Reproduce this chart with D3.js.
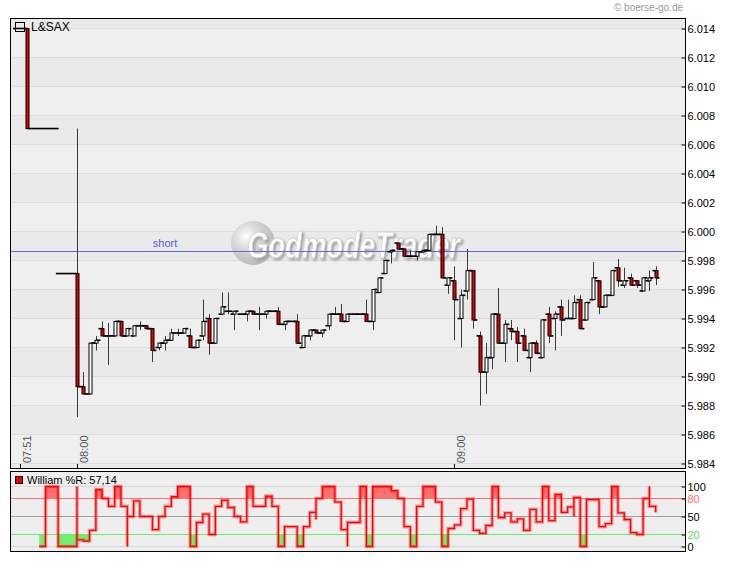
<!DOCTYPE html>
<html><head><meta charset="utf-8">
<script src="https://cdn.jsdelivr.net/npm/d3@7"></script>
<style>
html,body{margin:0;padding:0;background:#fff;}
svg{display:block;font-family:"Liberation Sans",Arial,sans-serif;}
</style></head>
<body>
<svg id="chart" width="730" height="561"></svg>
<script>
// ---------------- DATA ----------------
const instrument = "L&SAX";
// minutes relative to 08:00
const candleTime = [-8,0,1,2,3,4,5,6,7,8,9,10,11,12,13,14,15,16,17,18,19,20,21,22,23,24,25,26,27,28,29,30,31,32,33,34,35,36,37,38,39,40,41,42,43,44,45,46,47,48,49,50,51,52,53,54,55,56,57,58,59,60,61,62,63,64,65,66,67,68,69,70,71,72,73,74,75,76,77,78,79,80,81,82,83,84,85,86,87,88,89,90,91,92];
const openVals  = [6.0140,5.9971,5.9893,5.9888,5.9923,5.9933,5.9928,5.9928,5.9938,5.9928,5.9928,5.9935,5.9935,5.9933,5.9920,5.9923,5.9925,5.9930,5.9930,5.9928,5.9920,5.9928,5.9940,5.9923,5.9943,5.9945,5.9943,5.9943,5.9943,5.9945,5.9943,5.9943,5.9945,5.9945,5.9936,5.9938,5.9938,5.9920,5.9928,5.9932,5.9930,5.9935,5.9943,5.9943,5.9938,5.9943,5.9943,5.9943,5.9938,5.9958,5.9971,5.9986,5.9992,5.9988,5.9983,5.9983,5.9986,5.9987,5.9998,5.9998,5.9963,5.9966,5.9940,5.9959,5.9973,5.9928,5.9903,5.9913,5.9943,5.9923,5.9933,5.9931,5.9928,5.9913,5.9923,5.9913,5.9943,5.9940,5.9948,5.9940,5.9940,5.9953,5.9939,5.9953,5.9966,5.9948,5.9956,5.9975,5.9963,5.9968,5.9966,5.9959,5.9966,5.9973];
const highVals  = [6.0140,6.0071,5.9903,5.9923,5.9928,5.9938,5.9937,5.9938,5.9938,5.9933,5.9935,5.9938,5.9935,5.9933,5.9923,5.9928,5.9933,5.9933,5.9933,5.9933,5.9925,5.9953,5.9943,5.9940,5.9958,5.9958,5.9945,5.9943,5.9945,5.9945,5.9948,5.9945,5.9945,5.9948,5.9938,5.9938,5.9943,5.9928,5.9932,5.9932,5.9932,5.9943,5.9948,5.9950,5.9943,5.9943,5.9943,5.9953,5.9960,5.9968,5.9980,5.9987,5.9992,5.9988,5.9987,5.9986,5.9987,5.9998,6.0004,6.0003,5.9968,5.9976,5.9960,5.9988,5.9973,5.9931,5.9923,5.9943,5.9961,5.9939,5.9939,5.9934,5.9933,5.9923,5.9925,5.9939,5.9948,5.9945,5.9953,5.9953,5.9956,5.9956,5.9951,5.9979,5.9966,5.9956,5.9973,5.9981,5.9975,5.9971,5.9966,5.9968,5.9973,5.9976];
const lowVals   = [6.0071,5.9872,5.9888,5.9888,5.9918,5.9928,5.9908,5.9928,5.9928,5.9928,5.9928,5.9932,5.9933,5.9910,5.9918,5.9918,5.9925,5.9928,5.9930,5.9920,5.9920,5.9925,5.9915,5.9923,5.9943,5.9943,5.9932,5.9943,5.9938,5.9943,5.9932,5.9940,5.9945,5.9936,5.9932,5.9938,5.9923,5.9920,5.9925,5.9930,5.9927,5.9932,5.9943,5.9938,5.9938,5.9943,5.9943,5.9938,5.9932,5.9958,5.9971,5.9978,5.9988,5.9983,5.9983,5.9980,5.9986,5.9987,5.9998,5.9968,5.9957,5.9925,5.9920,5.9953,5.9933,5.9880,5.9888,5.9905,5.9923,5.9910,5.9925,5.9910,5.9918,5.9903,5.9916,5.9913,5.9923,5.9918,5.9928,5.9940,5.9940,5.9933,5.9939,5.9953,5.9943,5.9948,5.9956,5.9962,5.9961,5.9963,5.9961,5.9959,5.9959,5.9963];
const closeVals = [6.0071,5.9893,5.9888,5.9923,5.9925,5.9928,5.9928,5.9938,5.9928,5.9933,5.9935,5.9935,5.9933,5.9918,5.9923,5.9925,5.9930,5.9930,5.9933,5.9920,5.9925,5.9938,5.9923,5.9940,5.9948,5.9945,5.9945,5.9943,5.9945,5.9943,5.9943,5.9945,5.9945,5.9936,5.9938,5.9938,5.9923,5.9928,5.9932,5.9930,5.9932,5.9943,5.9943,5.9938,5.9943,5.9943,5.9943,5.9938,5.9960,5.9968,5.9980,5.9987,5.9988,5.9983,5.9983,5.9986,5.9987,5.9998,5.9998,5.9968,5.9968,5.9953,5.9956,5.9973,5.9939,5.9903,5.9913,5.9943,5.9923,5.9936,5.9931,5.9923,5.9918,5.9923,5.9916,5.9939,5.9928,5.9943,5.9939,5.9940,5.9951,5.9933,5.9951,5.9968,5.9948,5.9956,5.9973,5.9966,5.9966,5.9963,5.9963,5.9968,5.9968,5.9968];

const shortLevel = 5.99862;
const shortLabel = "short";

const priceTicks = [5.984,5.986,5.988,5.990,5.992,5.994,5.996,5.998,6.000,6.002,6.004,6.006,6.008,6.010,6.012,6.014];
const timeTicks = [-9, 0, 60];
const timeTickLabels = ["07:51","08:00","09:00"];

const wrName = "William %R";
const wrTime  = [-6,-5,-3,0,0,1,2,3,4,5,6,7,8,8,9,10,11,12,13,14,15,16,17,18,19,20,21,22,23,24,25,26,27,28,29,30,31,32,33,34,35,36,37,38,38,39,40,41,42,42,43,43,44,45,46,47,48,49,50,51,52,53,54,55,56,57,58,59,60,61,62,63,64,65,66,67,68,69,70,71,72,73,74,75,76,77,78,79,79,80,81,82,83,84,85,86,87,88,89,90,91,91,92];
const wrValue = [0,100,0,100,11,9,27,95,80,67,100,67,0,50,76,50,50,28,50,67,83,100,100,0,40,54,20,67,77,65,50,41,100,67,67,84,67,0,33,33,0,33,57,45,80,100,100,74,43,28,0,40,40,100,0,100,100,100,93,80,33,0,67,100,100,74,0,30,36,63,79,27,22,35,100,48,56,41,46,27,62,41,100,43,87,57,66,50,82,0,78,78,33,38,100,56,45,23,20,80,100,67,57.14];
const wrTicks = [0,20,50,80,100];
const wrUpper = 80, wrLower = 20;
const copyright = "\u00a9 boerse-go.de";
const watermark = "GodmodeTrader";

// ---------------- LAYOUT ----------------
const svg = d3.select("#chart");
const L = 10, R = 685, T = 18, B = 468;      // main panel
const T2 = 471, B2 = 551;                     // indicator panel

const x = d3.scaleLinear().domain([-10.65, 96.66]).range([L, R]);
const y = d3.scaleLinear().domain([5.984, 6.014]).range([463.5, 28.5]);
const yw = d3.scaleLinear().domain([0, 100]).range([546.5, 486.5]);
const snap = v => Math.round(v - 0.5) + 0.5;

const defs = svg.append("defs");
defs.append("clipPath").attr("id","mainClip").append("rect")
  .attr("x",L).attr("y",T).attr("width",R-L).attr("height",B-T);
defs.append("clipPath").attr("id","aboveClip").append("rect")
  .attr("x",L).attr("y",T2).attr("width",R-L).attr("height",yw(wrUpper)-T2);
defs.append("clipPath").attr("id","belowClip").append("rect")
  .attr("x",L).attr("y",yw(wrLower)).attr("width",R-L).attr("height",B2-yw(wrLower));
const grad = defs.append("radialGradient").attr("id","sphere").attr("cx","35%").attr("cy","35%").attr("r","70%");
grad.append("stop").attr("offset","0%").attr("stop-color","#ffffff");
grad.append("stop").attr("offset","45%").attr("stop-color","#d6d6d6");
grad.append("stop").attr("offset","100%").attr("stop-color","#b4b4b4");
const shadow = defs.append("filter").attr("id","wmShadow").attr("x","-10%").attr("y","-20%").attr("width","130%").attr("height","150%");
shadow.append("feDropShadow").attr("dx",2).attr("dy",2).attr("stdDeviation",1.2)
  .attr("flood-color","#9a9a9a").attr("flood-opacity",0.9);

// copyright
svg.append("text").attr("x",683).attr("y",11).attr("text-anchor","end")
  .attr("font-size",10).attr("fill","#9a9a9a").text(copyright);

// ---------- main panel background bands ----------
const bounds = [T].concat(priceTicks.slice().sort((a,b)=>b-a).map(v=>y(v))).concat([B]);
const main = svg.append("g");
for (let i=0;i<bounds.length-1;i++){
  main.append("rect").attr("x",L).attr("y",bounds[i]).attr("width",R-L)
    .attr("height",bounds[i+1]-bounds[i]).attr("fill", i%2===0 ? "#eaeaea" : "#efefef");
}
main.selectAll("line.grid").data(priceTicks).join("line").attr("class","grid")
  .attr("x1",L).attr("x2",R).attr("y1",d=>y(d)).attr("y2",d=>y(d))
  .attr("stroke","#dcdcdc").attr("stroke-width",1);

// watermark
const wm = main.append("g").attr("opacity",0.95);
wm.append("circle").attr("cx",253).attr("cy",243).attr("r",22).attr("fill","url(#sphere)");
wm.append("text").attr("x",247).attr("y",258).attr("font-size",36).attr("font-weight","bold")
  .attr("font-style","italic").attr("textLength",213).attr("lengthAdjust","spacingAndGlyphs")
  .attr("fill","#ffffff").attr("stroke","#d0d0d0").attr("stroke-width",0.8)
  .attr("filter","url(#wmShadow)").text(watermark);

// short line
main.append("line").attr("x1",L).attr("x2",R).attr("y1",snap(y(shortLevel))).attr("y2",snap(y(shortLevel)))
  .attr("stroke","#6464e6").attr("stroke-width",1);
main.append("text").attr("x",165).attr("y",247).attr("text-anchor","middle")
  .attr("font-size",11).attr("fill","#5c5cd6").text(shortLabel);

// ---------- candles ----------
const candles = candleTime.map((t,i)=>({t,o:openVals[i],h:highVals[i],l:lowVals[i],c:closeVals[i]}));
const cg = svg.append("g").attr("clip-path","url(#mainClip)");
const n = candles.length;
candles.forEach((d,i)=>{
  const xc = Math.round(x(d.t));
  cg.append("line").attr("x1",xc+0.5).attr("x2",xc+0.5).attr("y1",y(d.h)).attr("y2",y(d.l))
    .attr("stroke","#3a3a3a").attr("stroke-width",1);
});
candles.forEach((d,i)=>{
  const xc = Math.round(x(d.t));
  const leftLen = i>0 ? Math.max((x(d.t)-x(candles[i-1].t))*0.42, 3.5) : 14;
  const rightLen = i<n-1 ? Math.max((x(candles[i+1].t)-x(d.t))*0.62, 3.5) : 3;
  cg.append("line").attr("x1",xc-leftLen).attr("x2",xc+0.5).attr("y1",y(d.o)).attr("y2",y(d.o))
    .attr("stroke","#000").attr("stroke-width",1.6);
  cg.append("line").attr("x1",xc+0.5).attr("x2",xc+rightLen+0.5).attr("y1",y(d.c)).attr("y2",y(d.c))
    .attr("stroke","#000").attr("stroke-width",1.6);
});
candles.forEach((d,i)=>{
  const xc = Math.round(x(d.t));
  const top = y(Math.max(d.o,d.c)), bot = y(Math.min(d.o,d.c));
  cg.append("rect").attr("x",xc-1).attr("y",top).attr("width",3).attr("height",Math.max(bot-top,0.01))
    .attr("fill", d.c < d.o ? "#e00000" : "#ffffff").attr("stroke","#000").attr("stroke-width",1);
});

// legend main
svg.append("rect").attr("x",15.5).attr("y",22.5).attr("width",9).attr("height",9)
  .attr("fill","none").attr("stroke","#000");
svg.append("text").attr("x",31).attr("y",31).attr("font-size",12).attr("fill","#000").text(instrument);

// x ticks and labels
svg.selectAll("line.xt").data(timeTicks).join("line").attr("class","xt")
  .attr("x1",d=>Math.round(x(d))+0.5).attr("x2",d=>Math.round(x(d))+0.5)
  .attr("y1",464).attr("y2",B).attr("stroke","#000");
svg.selectAll("text.xl").data(timeTicks).join("text").attr("class","xl")
  .attr("transform",d=>`translate(${Math.round(x(d))+11},463) rotate(-90)`)
  .attr("font-size",11).attr("fill","#555").text((d,i)=>timeTickLabels[i]);

// frame
svg.append("rect").attr("x",L+0.5).attr("y",T+0.5).attr("width",R-L).attr("height",B-T)
  .attr("fill","none").attr("stroke","#000").attr("stroke-width",1);

// right axis
const ax = svg.append("g").attr("transform",`translate(${R+0.5},0)`)
  .call(d3.axisRight(y).tickValues(priceTicks).tickFormat(d3.format(".3f")).tickSize(-4).tickSizeOuter(0).tickPadding(2));
ax.select(".domain").remove();
ax.selectAll("text").attr("font-size",11).attr("font-family","Liberation Sans, Arial, sans-serif").attr("fill","#000");
ax.selectAll("line").attr("stroke","#000");

// ---------- indicator panel ----------
const ip = svg.append("g");
ip.append("rect").attr("x",L).attr("y",T2).attr("width",R-L).attr("height",B2-T2).attr("fill","#eeeeee");
const lvlColor = {0:"#d6d6d6",20:"#66ee66",50:"#a0a0a0",80:"#ff7070",100:"#d6d6d6"};
ip.selectAll("line.lv").data(wrTicks).join("line").attr("class","lv")
  .attr("x1",L).attr("x2",R).attr("y1",d=>yw(d)).attr("y2",d=>yw(d))
  .attr("stroke",d=>lvlColor[d]).attr("stroke-width",1.2);

const wr = wrTime.map((t,i)=>({t,v:wrValue[i]}));
const areaAbove = d3.area().curve(d3.curveStepAfter).x(d=>x(d.t)).y0(yw(wrUpper)).y1(d=>yw(d.v));
const areaBelow = d3.area().curve(d3.curveStepAfter).x(d=>x(d.t)).y0(yw(wrLower)).y1(d=>yw(d.v));
ip.append("path").attr("d",areaAbove(wr)).attr("fill","#ff7070").attr("clip-path","url(#aboveClip)");
ip.append("path").attr("d",areaBelow(wr)).attr("fill","#70f070").attr("clip-path","url(#belowClip)");
const wrLine = d3.line().curve(d3.curveStepAfter).x(d=>x(d.t)).y(d=>yw(d.v));
ip.append("path").attr("d",wrLine(wr)).attr("fill","none").attr("stroke","rgba(255,0,0,0.35)").attr("stroke-width",3.5);
ip.append("path").attr("d",wrLine(wr)).attr("fill","none").attr("stroke","#ff0000").attr("stroke-width",1.3);

// legend indicator
ip.append("rect").attr("x",15.5).attr("y",476.5).attr("width",7).attr("height",7)
  .attr("fill","#ee0000").attr("stroke","#000");
ip.append("text").attr("x",27).attr("y",483.5).attr("font-size",11).attr("fill","#000")
  .text(wrName + ": " + d3.format(".2f")(wrValue[wrValue.length-1]).replace(".", ","));

ip.append("rect").attr("x",L+0.5).attr("y",T2+0.5).attr("width",R-L).attr("height",B2-T2)
  .attr("fill","none").attr("stroke","#000");
const ax2 = svg.append("g").attr("transform",`translate(${R+0.5},0)`)
  .call(d3.axisRight(yw).tickValues(wrTicks).tickSize(-4).tickSizeOuter(0).tickPadding(2));
ax2.select(".domain").remove();
ax2.selectAll("line").attr("stroke","#000");
ax2.selectAll("text").attr("font-size",11).attr("font-family","Liberation Sans, Arial, sans-serif")
  .attr("fill",d=> d===wrUpper ? "#ff7070" : d===wrLower ? "#55dd55" : "#000");
</script>
</body></html>
